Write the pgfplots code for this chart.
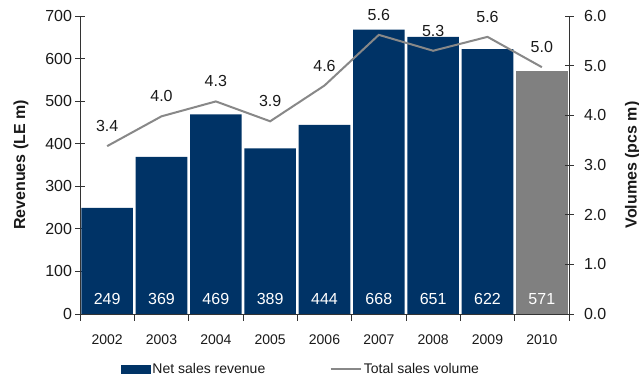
\documentclass[border=0pt]{standalone}
\usepackage{pgfplots}
\pgfplotsset{compat=1.18}
\usepackage{fontspec}
\setmainfont{Liberation Sans}
\definecolor{navy}{RGB}{0,51,102}
\definecolor{bargray}{RGB}{128,128,128}
\definecolor{linegray}{RGB}{136,136,136}
\definecolor{txt}{RGB}{26,26,26}
\begin{document}
\begin{tikzpicture}
\pgfplotsset{
  common/.style={
    width=489pt, height=298pt, scale only axis,
    xmin=-0.5, xmax=8.5,
    /pgf/number format/assume math mode=true,
    axis line style={black!80, line width=0.8pt},
    tick style={black!80, line width=0.8pt},
    major tick length=9pt,
    tick align=center,
    ticklabel style={font=\fontsize{16}{16}\selectfont, text=txt},
    label style={font=\bfseries\fontsize{16}{16}\selectfont, text=txt},
    clip=false,
  }
}
\begin{axis}[common, name=ax,
  axis x line*=bottom, axis y line*=left,
  ymin=0, ymax=700, ytick={0,100,...,700},
  xtick={0,1,2,3,4,5,6,7,8},
  xticklabels={2002,2003,2004,2005,2006,2007,2008,2009,2010},
  xticklabel style={font=\fontsize{14}{14}\selectfont, yshift=-8pt},
  major x tick style={draw=none},
  minor xtick={-0.5,0.5,1.5,2.5,3.5,4.5,5.5,6.5,7.5,8.5},
  minor tick length=7pt,
  minor x tick style={black!80, line width=0.8pt},
  ylabel={Revenues (LE m)},
  ylabel style={yshift=10pt},
  ybar, bar width=0.95,
]
\addplot[fill=navy, draw=none, bar shift=0pt] coordinates {
  (0,249) (1,369) (2,469) (3,389) (4,444) (5,668) (6,651) (7,622)};
\addplot[fill=bargray, draw=none, bar shift=0pt] coordinates {(8,571)};
\end{axis}
\begin{axis}[common,
  axis x line=none, axis y line*=right,
  ymin=0, ymax=6, ytick={0,1,...,6},
  yticklabel style={xshift=7pt, /pgf/number format/.cd, fixed, fixed zerofill, precision=1},
  ylabel={Volumes (pcs m)},
  ylabel style={yshift=-12pt},
  legend style={at={(0.452,0)}, anchor=center, yshift=-55pt, draw=none, fill=none,
    legend columns=2, font=\fontsize{14}{14}\selectfont, text=txt,
    /tikz/every even column/.append style={column sep=62pt}},
]
\addlegendimage{legend image code/.code={\fill[navy] (0pt,-4pt) rectangle (29pt,4pt);}}
\addlegendentry{Net sales revenue}
\addplot[linegray, line width=2pt, mark=none,
  legend image code/.code={\draw[linegray,line width=2.5pt] (0pt,0pt) -- (30pt,0pt);},
  nodes near coords, point meta=explicit symbolic,
  every node near coord/.append style={font=\fontsize{16}{16}\selectfont, text=txt, anchor=center, yshift=20pt}]
  table[meta=lab] {
x y lab
0 3.38 3.4
1 3.98 4.0
2 4.28 4.3
3 3.88 3.9
4 4.60 4.6
5 5.62 5.6
6 5.30 5.3
7 5.58 5.6
8 4.97 5.0
};
\addlegendentry{Total sales volume}
\addplot[draw=none, mark=none, forget plot,
  nodes near coords, point meta=explicit symbolic,
  every node near coord/.append style={font=\fontsize{16}{16}\selectfont, text=white, anchor=center}]
  table[meta=lab] {
x y lab
0 0.3 249
1 0.3 369
2 0.3 469
3 0.3 389
4 0.3 444
5 0.3 668
6 0.3 651
7 0.3 622
8 0.3 571
};
\end{axis}
\pgfresetboundingbox
\useasboundingbox ([shift={(-80pt,-66pt)}]ax.south west) rectangle ([shift={(70pt,16pt)}]ax.north east);
\end{tikzpicture}
\end{document}
